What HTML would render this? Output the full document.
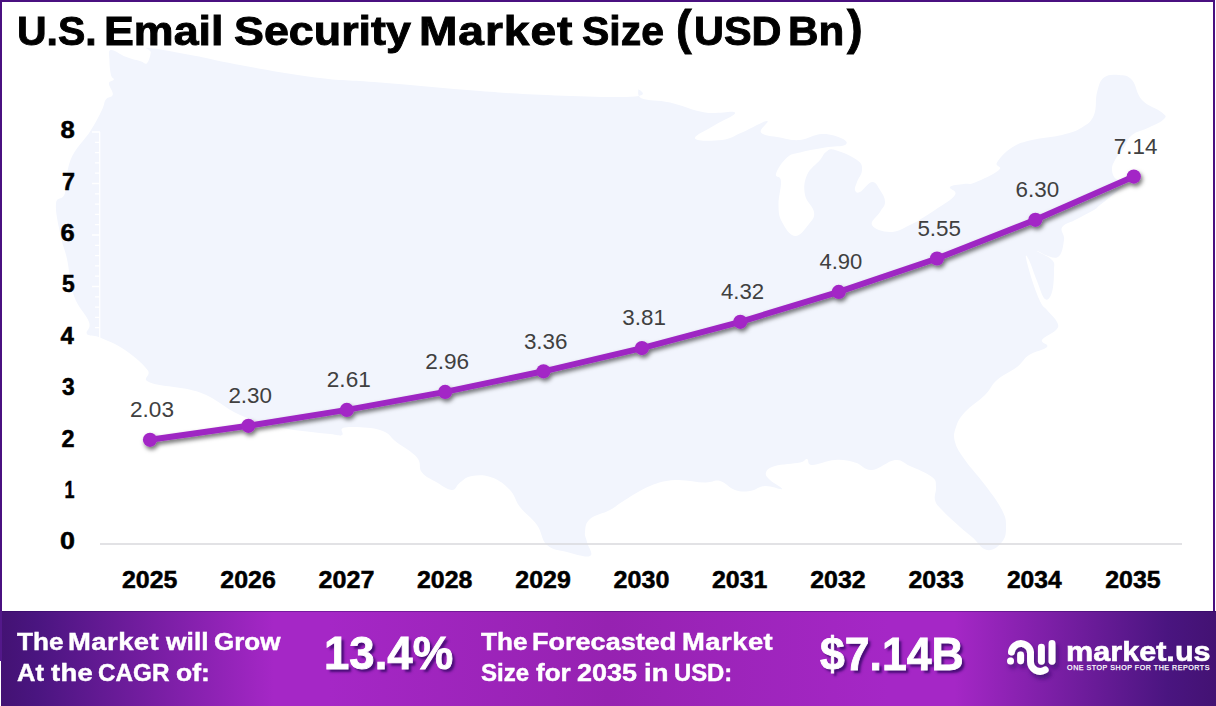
<!DOCTYPE html>
<html lang="en">
<head>
<meta charset="utf-8">
<title>U.S. Email Security Market Size (USD Bn)</title>
<style>
html,body{margin:0;padding:0;background:#fff}
body{width:1216px;height:706px;overflow:hidden;position:relative;font-family:"Liberation Sans",sans-serif}
.frame{position:absolute;left:0;top:0;width:1211px;height:609px;border:2px solid #4a1080;border-bottom:0;z-index:5;pointer-events:none}
.lext{position:absolute;left:0;top:611px;width:2px;height:50px;background:#53188a;z-index:5}
.title{position:absolute;left:0;top:0;margin:0;font-size:40.5px;font-weight:700;color:#000;line-height:1}
.title span,.footer span{position:absolute;white-space:nowrap;line-height:1;transform-origin:0 50%}
.title span{-webkit-text-stroke:.9px #000}
.footer .w span{-webkit-text-stroke:.45px #fff}
.footer .big span{-webkit-text-stroke:.9px #fff}
.footer .logo span{-webkit-text-stroke:.6px #fff}
.chart{position:absolute;left:0;top:0}
.chart text{font-family:"Liberation Sans",sans-serif}
.footer{position:absolute;left:0;top:611px;width:1216px;height:95px;
 background:linear-gradient(90deg,#431273 0%,#4a1580 3%,#a527c6 22.5%,#a527c6 27%,#9622b1 50%,#a527c6 73%,#a527c6 78.5%,#4a1580 96%,#431273 100%);
 box-shadow:inset 0 1px 0 rgba(40,0,90,.35);color:#fff;font-weight:700}
.footer .w{position:absolute;left:0;top:-611px;font-size:24.5px}
.footer .big{position:absolute;left:0;top:-611px;text-shadow:3px 3.2px 2.5px rgba(55,8,105,.85)}
.footer .logo{position:absolute;left:0;top:-611px;font-size:28px}
.footer .tag{position:absolute;left:0;top:-611px;font-size:7.1px;font-weight:400;-webkit-text-stroke:.25px #fff}
.sliver{position:absolute;left:0;top:661px;width:1px;height:45px;background:#fff;z-index:6}
</style>
</head>
<body>
<h1 class="title"><span style="left:17.3px;top:11.2px;letter-spacing:0.00px;transform:scaleX(1.012)">U.S.</span> <span style="left:103.9px;top:11.2px;letter-spacing:0.00px;transform:scaleX(1.105)">Email</span> <span style="left:233.5px;top:11.2px;letter-spacing:0.00px;transform:scaleX(1.107)">Security</span> <span style="left:418.9px;top:11.2px;letter-spacing:0.79px;transform:scaleX(1.140)">Market</span> <span style="left:582.3px;top:11.2px;letter-spacing:-0.00px;transform:scaleX(1.012)">Size</span> <span style="font-size:48px;left:675.7px;top:3.5px;letter-spacing:0.00px;transform:scaleX(0.977)">(</span><span style="left:693.5px;top:11.2px;letter-spacing:0.00px;transform:scaleX(1.023)">USD</span> <span style="left:787.8px;top:11.2px;letter-spacing:-0.00px;transform:scaleX(1.042)">Bn</span><span style="font-size:48px;left:846.8px;top:3.5px;letter-spacing:0.00px;transform:scaleX(0.980)">)</span></h1>
<svg class="chart" width="1216" height="611" viewBox="0 0 1216 611">
<defs>
<filter id="soft" x="-2%" y="-2%" width="104%" height="104%"><feGaussianBlur stdDeviation=".7"/></filter>
<filter id="sh" x="-5%" y="-5%" width="110%" height="115%"><feDropShadow dx="1.6" dy="2.8" stdDeviation="1.9" flood-color="#000" flood-opacity=".55"/></filter>
</defs>
<path fill="#f2f5fd" fill-rule="evenodd" filter="url(#soft)" d="M110.9 50.0C114.2 49.4 119.8 54.5 125.7 56.8C131.6 59.1 136.3 60.0 140.6 61.3C144.9 62.6 145.0 65.0 147.0 63.2C149.0 61.4 150.3 55.5 150.8 52.5C151.3 49.5 140.5 47.3 149.5 48.0C158.5 48.7 177.9 52.6 196.0 56.0C214.1 59.4 216.2 60.7 240.0 65.0C263.8 69.3 287.0 74.0 315.0 77.5C343.0 81.0 347.0 79.8 380.0 82.5C413.0 85.2 445.0 88.4 480.0 91.0C515.0 93.6 524.0 94.4 555.0 95.5C586.0 96.6 618.4 97.8 635.0 96.5C651.6 95.2 636.6 88.6 638.0 89.0C639.4 89.4 635.6 95.8 642.0 98.5C648.4 101.2 657.4 99.7 670.0 102.5C682.6 105.3 692.0 110.5 705.0 112.5C718.0 114.5 733.0 110.0 735.0 112.5C737.0 115.0 723.0 119.8 715.0 125.0C707.0 130.2 693.6 135.5 695.0 138.5C696.4 141.5 712.6 141.2 722.0 140.0C731.4 138.8 733.0 136.3 742.0 132.5C751.0 128.7 763.2 121.0 767.0 121.0C770.8 121.0 758.4 129.2 761.0 132.5C763.6 135.8 772.2 136.0 780.0 137.5C787.8 139.0 791.6 140.7 800.0 140.0C808.4 139.3 813.6 134.3 822.0 134.0C830.4 133.7 837.4 136.3 842.0 138.5C846.6 140.7 848.4 143.2 845.0 145.0C841.6 146.8 834.0 146.0 825.0 147.5C816.0 149.0 807.6 150.5 800.0 152.5C792.4 154.5 791.8 153.2 787.0 157.5C782.2 161.8 777.2 169.3 776.0 174.0C774.8 178.7 780.5 174.8 781.0 181.0C781.5 187.2 778.3 196.8 778.5 205.0C778.7 213.2 778.7 215.8 782.0 222.0C785.3 228.2 789.6 235.6 795.0 236.0C800.4 236.4 805.2 228.8 809.0 224.0C812.8 219.2 814.8 217.8 814.0 212.0C813.2 206.2 806.4 202.4 805.0 195.0C803.6 187.6 804.0 182.0 807.0 175.0C810.0 168.0 816.2 164.6 820.0 160.0C823.8 155.4 823.0 154.0 826.0 152.0C829.0 150.0 828.8 148.4 835.0 150.0C841.2 151.6 851.6 156.0 857.0 160.0C862.4 164.0 862.0 165.6 862.0 170.0C862.0 174.4 858.4 178.0 857.0 182.0C855.6 186.0 854.4 188.0 855.0 190.0C855.6 192.0 856.6 193.6 860.0 192.0C863.4 190.4 868.0 182.4 872.0 182.0C876.0 181.6 877.4 186.0 880.0 190.0C882.6 194.0 885.0 197.6 885.0 202.0C885.0 206.4 882.6 207.4 880.0 212.0C877.4 216.6 870.0 221.0 872.0 225.0C874.0 229.0 882.4 232.0 890.0 232.0C897.6 232.0 901.0 229.4 910.0 225.0C919.0 220.6 926.0 216.0 935.0 210.0C944.0 204.0 952.0 199.6 955.0 195.0C958.0 190.4 948.2 189.2 950.0 187.0C951.8 184.8 959.0 184.9 964.0 184.0C969.0 183.1 968.0 185.3 975.0 182.5C982.0 179.7 994.6 174.0 999.0 170.0C1003.4 166.0 994.4 167.0 997.0 162.5C999.6 158.0 1005.0 152.0 1012.0 147.5C1019.0 143.0 1022.0 142.5 1032.0 140.0C1042.0 137.5 1052.0 137.5 1062.0 135.0C1072.0 132.5 1075.6 131.5 1082.0 127.5C1088.4 123.5 1091.0 122.0 1094.0 115.0C1097.0 108.0 1095.0 100.0 1097.0 92.5C1099.0 85.0 1099.6 81.0 1104.0 77.5C1108.4 74.0 1113.4 74.5 1119.0 75.0C1124.6 75.5 1127.4 75.0 1132.0 80.0C1136.6 85.0 1136.0 93.5 1142.0 100.0C1148.0 106.5 1157.6 108.7 1162.0 112.5C1166.4 116.3 1166.6 116.0 1164.0 119.0C1161.4 122.0 1155.4 124.3 1149.0 127.5C1142.6 130.7 1137.0 131.0 1132.0 135.0C1127.0 139.0 1127.4 142.5 1124.0 147.5C1120.6 152.5 1117.4 155.5 1115.0 160.0C1112.6 164.5 1111.8 166.2 1112.0 170.0C1112.2 173.8 1113.4 176.8 1116.0 179.0C1118.6 181.2 1124.0 179.2 1125.0 181.0C1126.0 182.8 1126.0 183.2 1121.0 188.0C1116.0 192.8 1105.4 200.6 1100.0 205.0C1094.6 209.4 1099.0 207.0 1094.0 210.0C1089.0 213.0 1081.4 216.5 1075.0 220.0C1068.6 223.5 1064.2 223.5 1062.0 227.5C1059.8 231.5 1065.0 234.0 1064.0 240.0C1063.0 246.0 1062.4 255.3 1057.0 257.5C1051.6 259.7 1038.0 250.5 1037.0 251.0C1036.0 251.5 1048.6 256.2 1052.0 260.0C1055.4 263.8 1054.0 263.6 1054.0 270.0C1054.0 276.4 1053.8 286.2 1052.0 292.0C1050.2 297.8 1048.0 301.2 1045.0 299.0C1042.0 296.8 1040.2 288.8 1037.0 281.0C1033.8 273.2 1031.2 264.6 1029.0 260.0C1026.8 255.4 1025.2 253.4 1026.0 258.0C1026.8 262.6 1030.0 274.0 1033.0 283.0C1036.0 292.0 1038.2 297.6 1041.0 303.0C1043.8 308.4 1043.8 306.2 1047.0 310.0C1050.2 313.8 1055.2 318.0 1057.0 322.0C1058.8 326.0 1059.0 326.4 1056.0 330.0C1053.0 333.6 1043.8 336.6 1042.0 340.0C1040.2 343.4 1049.6 344.0 1047.0 347.0C1044.4 350.0 1035.0 351.0 1029.0 355.0C1023.0 359.0 1023.4 362.0 1017.0 367.0C1010.6 372.0 1003.4 374.4 997.0 380.0C990.6 385.6 991.4 388.6 985.0 395.0C978.6 401.4 970.8 405.6 965.0 412.0C959.2 418.4 958.0 421.0 956.0 427.0C954.0 433.0 953.2 435.4 955.0 442.0C956.8 448.6 959.0 451.4 965.0 460.0C971.0 468.6 977.6 475.0 985.0 485.0C992.4 495.0 997.8 501.6 1002.0 510.0C1006.2 518.4 1006.0 520.6 1006.0 527.0C1006.0 533.4 1005.8 537.4 1002.0 542.0C998.2 546.6 993.0 551.0 987.0 550.0C981.0 549.0 977.4 541.6 972.0 537.0C966.6 532.4 966.0 532.4 960.0 527.0C954.0 521.6 947.0 515.4 942.0 510.0C937.0 504.6 936.2 504.6 935.0 500.0C933.8 495.4 936.6 491.6 936.0 487.0C935.4 482.4 937.2 481.2 932.0 477.0C926.8 472.8 917.4 469.4 910.0 466.0C902.6 462.6 902.6 459.2 895.0 460.0C887.4 460.8 880.0 469.5 872.0 470.0C864.0 470.5 862.4 464.5 855.0 462.5C847.6 460.5 843.6 459.5 835.0 460.0C826.4 460.5 817.6 465.2 812.0 465.0C806.4 464.8 809.4 459.5 807.0 459.0C804.6 458.5 806.4 461.1 800.0 462.5C793.6 463.9 781.8 464.0 775.0 466.0C768.2 468.0 767.0 469.7 766.0 472.5C765.0 475.3 766.8 476.7 770.0 480.0C773.2 483.3 783.0 487.8 782.0 489.0C781.0 490.2 771.4 485.6 765.0 486.0C758.6 486.4 756.0 490.2 750.0 491.0C744.0 491.8 741.0 492.0 735.0 490.0C729.0 488.0 726.0 482.5 720.0 481.0C714.0 479.5 714.0 482.7 705.0 482.5C696.0 482.3 686.0 479.3 675.0 480.0C664.0 480.7 660.0 482.0 650.0 486.0C640.0 490.0 633.0 495.2 625.0 500.0C617.0 504.8 617.0 506.2 610.0 510.0C603.0 513.8 595.0 514.6 590.0 519.0C585.0 523.4 585.6 527.4 585.0 532.0C584.4 536.6 586.0 537.2 587.0 542.0C588.0 546.8 594.0 554.0 590.0 556.0C586.0 558.0 575.6 554.2 567.0 552.0C558.4 549.8 553.0 550.4 547.0 545.0C541.0 539.6 542.4 532.6 537.0 525.0C531.6 517.4 525.4 514.0 520.0 507.0C514.6 500.0 515.6 495.9 510.0 490.0C504.4 484.1 499.6 480.3 492.0 477.5C484.4 474.7 478.4 475.0 472.0 476.0C465.6 477.0 464.0 479.7 460.0 482.5C456.0 485.3 456.6 490.0 452.0 490.0C447.4 490.0 443.0 486.0 437.0 482.5C431.0 479.0 426.0 477.5 422.0 472.5C418.0 467.5 422.0 463.5 417.0 457.5C412.0 451.5 404.4 448.0 397.0 442.5C389.6 437.0 390.4 433.0 380.0 430.0C369.6 427.0 352.6 426.5 345.0 427.5C337.4 428.5 345.0 433.7 342.0 435.0C339.0 436.3 342.4 435.5 330.0 434.0C317.6 432.5 298.0 431.3 280.0 427.5C262.0 423.7 256.0 422.0 240.0 415.0C224.0 408.0 218.0 399.0 200.0 392.5C182.0 386.0 160.5 387.0 150.0 382.5C139.5 378.0 152.5 376.5 147.5 370.0C142.5 363.5 134.5 356.5 125.0 350.0C115.5 343.5 107.6 340.7 100.0 337.5C92.4 334.3 89.2 337.1 87.0 334.0C84.8 330.9 91.6 329.6 89.0 322.0C86.4 314.4 78.4 308.6 74.0 296.0C69.6 283.4 69.6 270.8 67.0 259.0C64.4 247.2 63.2 248.0 61.0 237.0C58.8 226.0 55.2 212.8 56.0 204.0C56.8 195.2 62.1 201.8 65.0 193.0C67.9 184.2 65.4 172.5 70.5 160.0C75.6 147.5 84.4 140.5 90.7 130.5C97.0 120.5 98.9 116.2 101.9 110.0C104.9 103.8 103.7 102.6 105.9 99.5C108.1 96.4 112.2 97.7 112.8 94.5C113.4 91.3 108.7 86.6 108.9 83.6C109.1 80.6 113.4 81.4 113.8 79.6C114.2 77.8 111.8 78.7 110.9 74.7C110.0 70.7 109.4 64.7 109.4 59.8C109.4 54.9 107.6 50.6 110.9 50.0Z"/>
<path d="M92 544.0H100M95 533.7H100M95 523.4H100M95 513.1H100M95 502.8H100M92 492.5H100M95 482.2H100M95 471.9H100M95 461.6H100M95 451.3H100M92 441.0H100M95 430.7H100M95 420.4H100M95 410.1H100M95 399.8H100M92 389.5H100M95 379.2H100M95 368.9H100M95 358.6H100M95 348.3H100M92 338.0H100M95 327.7H100M95 317.4H100M95 307.1H100M95 296.8H100M92 286.5H100M95 276.2H100M95 265.9H100M95 255.6H100M95 245.3H100M92 235.0H100M95 224.7H100M95 214.4H100M95 204.1H100M95 193.8H100M92 183.5H100M95 173.2H100M95 162.9H100M95 152.6H100M95 142.3H100M92 132.0H100M99.7 132V544" stroke="#fff" stroke-width="1.3" fill="none"/>
<path d="M100 544H1182" stroke="#d9d9dc" stroke-width="1.6"/>
<g filter="url(#sh)">
<polyline points="150.0,439.8 248.4,425.8 346.8,409.9 445.1,391.9 543.5,371.3 641.9,348.1 740.3,321.8 838.7,291.9 937.0,258.5 1035.4,219.8 1133.8,176.6" fill="none" stroke="#9e27c3" stroke-width="6" stroke-linejoin="round" stroke-linecap="round"/>
<g fill="#a327c6"><circle cx="150.0" cy="439.8" r="7.1"/>
<circle cx="248.4" cy="425.8" r="7.1"/>
<circle cx="346.8" cy="409.9" r="7.1"/>
<circle cx="445.1" cy="391.9" r="7.1"/>
<circle cx="543.5" cy="371.3" r="7.1"/>
<circle cx="641.9" cy="348.1" r="7.1"/>
<circle cx="740.3" cy="321.8" r="7.1"/>
<circle cx="838.7" cy="291.9" r="7.1"/>
<circle cx="937.0" cy="258.5" r="7.1"/>
<circle cx="1035.4" cy="219.8" r="7.1"/>
<circle cx="1133.8" cy="176.6" r="7.1"/></g>
</g>
<g font-size="22.3" fill="#404040"><text transform="translate(130.0 417.0) scale(1.013 1)">2.03</text>
<text transform="translate(228.4 403.0) scale(1.005 1)">2.30</text>
<text transform="translate(326.8 387.1) scale(1.013 1)">2.61</text>
<text transform="translate(425.2 369.1) scale(1.013 1)">2.96</text>
<text transform="translate(523.9 348.5) scale(1.005 1)">3.36</text>
<text transform="translate(622.3 325.3) scale(1.005 1)">3.81</text>
<text transform="translate(721.0 299.0) scale(0.996 1)">4.32</text>
<text transform="translate(819.4 269.1) scale(0.988 1)">4.90</text>
<text transform="translate(917.4 235.7) scale(1.005 1)">5.55</text>
<text transform="translate(1015.5 197.0) scale(1.005 1)">6.30</text>
<text transform="translate(1113.8 153.8) scale(1.005 1)">7.14</text></g>
<g font-size="23.5" font-weight="700" fill="#000" stroke="#000" stroke-width=".5"><text transform="translate(60.1 549.4) scale(1.145 1)">0</text>
<text transform="translate(64.6 498.0) scale(0.764 1)">1</text>
<text transform="translate(61.6 446.6) scale(0.996 1)">2</text>
<text transform="translate(62.0 395.2) scale(0.967 1)">3</text>
<text transform="translate(60.6 343.8) scale(1.021 1)">4</text>
<text transform="translate(61.9 292.4) scale(0.975 1)">5</text>
<text transform="translate(60.5 241.0) scale(1.086 1)">6</text>
<text transform="translate(62.0 189.6) scale(0.993 1)">7</text>
<text transform="translate(60.4 138.2) scale(1.094 1)">8</text></g>
<g font-size="24" font-weight="700" fill="#000" stroke="#000" stroke-width=".5"><text transform="translate(122.0 588) scale(1.039 1)">2025</text>
<text transform="translate(220.3 588) scale(1.039 1)">2026</text>
<text transform="translate(318.6 588) scale(1.047 1)">2027</text>
<text transform="translate(416.9 588) scale(1.039 1)">2028</text>
<text transform="translate(515.3 588) scale(1.039 1)">2029</text>
<text transform="translate(613.6 588) scale(1.047 1)">2030</text>
<text transform="translate(711.9 588) scale(1.039 1)">2031</text>
<text transform="translate(810.2 588) scale(1.039 1)">2032</text>
<text transform="translate(908.5 588) scale(1.039 1)">2033</text>
<text transform="translate(1006.9 588) scale(1.025 1)">2034</text>
<text transform="translate(1105.2 588) scale(1.039 1)">2035</text></g>
</svg>
<div class="footer">
<div class="w"><span style="left:17.1px;top:629.9px;letter-spacing:0.00px;transform:scaleX(1.065)">The</span> <span style="left:67.9px;top:629.9px;letter-spacing:0.40px;transform:scaleX(1.120)">Market</span> <span style="left:165.7px;top:629.9px;letter-spacing:0.00px;transform:scaleX(1.078)">will</span> <span style="left:214.4px;top:629.9px;letter-spacing:0.00px;transform:scaleX(1.062)">Grow</span> <span style="left:16.5px;top:660.9px;letter-spacing:0.00px;transform:scaleX(1.043)">At</span> <span style="left:50.6px;top:660.9px;letter-spacing:0.28px;transform:scaleX(1.120)">the</span> <span style="left:98.2px;top:660.9px;letter-spacing:0.00px;transform:scaleX(0.990)">CAGR</span> <span style="left:175.7px;top:660.9px;letter-spacing:0.00px;transform:scaleX(1.080)">of:</span> <span style="left:481.2px;top:629.9px;letter-spacing:0.00px;transform:scaleX(1.066)">The</span> <span style="left:532.1px;top:629.9px;letter-spacing:0.00px;transform:scaleX(1.104)">Forecasted</span> <span style="left:682.1px;top:629.9px;letter-spacing:0.41px;transform:scaleX(1.120)">Market</span> <span style="left:480.8px;top:660.9px;letter-spacing:0.00px;transform:scaleX(0.980)">Size</span> <span style="left:536.4px;top:660.9px;letter-spacing:0.00px;transform:scaleX(1.062)">for</span> <span style="left:577.3px;top:660.9px;letter-spacing:0.00px;transform:scaleX(1.101)">2035</span> <span style="left:643.5px;top:660.9px;letter-spacing:0.05px;transform:scaleX(1.120)">in</span> <span style="left:673.5px;top:660.9px;letter-spacing:0.00px;transform:scaleX(0.973)">USD:</span></div>
<div class="big" style="font-size:47px"><span style="left:323.9px;top:628.6px;letter-spacing:0.00px;transform:scaleX(0.969)">13.4%</span></div>
<div class="big" style="font-size:47px"><span style="left:819.6px;top:630.1px;letter-spacing:0.00px;transform:scaleX(0.948)">$7.14B</span></div>
<svg style="position:absolute;left:0;top:-611px" width="1216" height="706" viewBox="0 0 1216 706">
<defs><filter id="ls" x="-20%" y="-20%" width="150%" height="160%"><feDropShadow dx="2.5" dy="4" stdDeviation="2.2" flood-color="#3a0a6e" flood-opacity=".75"/></filter></defs>
<g filter="url(#ls)" fill="none" stroke="#fff" stroke-width="6.9" stroke-linecap="round">
<circle cx="1010.5" cy="661" r="3.5" fill="#fff" stroke="none"/>
<path d="M1011.4 652A9.6 9.6 0 0 1 1030.5 653.9V661.8A9.6 9.6 0 0 0 1045.2 669.9"/>
<path d="M1020.6 654.9V660.8"/>
<path d="M1041.4 647.1V661.2"/>
<path d="M1052 643.5V661.2"/>
</g>
</svg>
<div class="logo"><span style="left:1065.8px;top:638.0px;letter-spacing:0.00px;transform:scaleX(1.093)">market.us</span></div>
<div class="tag"><span style="left:1067.1px;top:664.6px;letter-spacing:0.53px;transform:scaleX(1.000)">ONE STOP SHOP FOR THE REPORTS</span></div>
</div>
<div class="frame"></div>
<div class="lext"></div>
<div class="sliver"></div>
</body>
</html>
